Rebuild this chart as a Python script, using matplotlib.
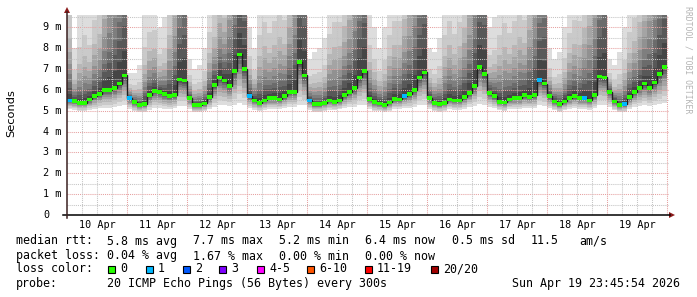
import numpy as np
import matplotlib
matplotlib.use("Agg")
import matplotlib.pyplot as plt
from matplotlib.patches import Rectangle, Polygon
from matplotlib.transforms import blended_transform_factory

W, H = 697, 297
MONO = "DejaVu Sans Mono"

# 2 hour steps, 10 Apr 00:00 .. 19 Apr 24:00
step_hours = 2
day_labels = ["10 Apr", "11 Apr", "12 Apr", "13 Apr", "14 Apr",
              "15 Apr", "16 Apr", "17 Apr", "18 Apr", "19 Apr"]

median_ms = [
    5.50, 5.48, 5.37, 5.37, 5.55, 5.70, 5.80, 6.00, 6.00, 6.10, 6.30, 6.70,
    5.60, 5.42, 5.28, 5.32, 5.75, 5.95, 5.90, 5.80, 5.70, 5.75, 6.50, 6.45,
    5.60, 5.28, 5.28, 5.35, 5.65, 6.24, 6.60, 6.45, 6.20, 6.90, 7.70, 7.00,
    5.70, 5.50, 5.37, 5.50, 5.60, 5.60, 5.55, 5.70, 5.90, 5.90, 7.34, 6.70,
    5.50, 5.32, 5.32, 5.37, 5.50, 5.42, 5.50, 5.75, 5.90, 6.10, 6.60, 6.90,
    5.56, 5.42, 5.35, 5.28, 5.40, 5.56, 5.55, 5.70, 5.80, 6.00, 6.60, 6.84,
    5.60, 5.37, 5.32, 5.37, 5.55, 5.50, 5.50, 5.65, 5.85, 6.20, 7.10, 6.75,
    5.85, 5.70, 5.42, 5.40, 5.55, 5.60, 5.60, 5.75, 5.66, 5.75, 6.48, 6.30,
    5.70, 5.45, 5.32, 5.45, 5.60, 5.70, 5.60, 5.60, 5.50, 5.75, 6.65, 6.60,
    5.90, 5.45, 5.28, 5.32, 5.65, 5.90, 6.10, 6.30, 6.10, 6.35, 6.75, 7.10,
]

# steps with lost pings (out of 20)
loss_steps = [0, 12, 36, 48, 67, 94, 103, 111]
loss_count = [1, 1, 1, 1, 1, 1, 1, 1]

# lowest and highest ping of each step (ms)
smoke_lo = [
    5.08, 5.03, 4.98, 4.98, 5.03, 5.08, 5.13, 5.13, 5.13, 5.18, 5.23, 5.28,
    5.08, 4.98, 4.93, 4.93, 5.03, 5.13, 5.13, 5.08, 5.08, 5.13, 5.23, 5.23,
    5.08, 4.93, 4.93, 4.98, 5.08, 5.18, 5.28, 5.28, 5.23, 5.28, 5.38, 5.28,
    5.13, 5.03, 4.98, 5.03, 5.08, 5.08, 5.08, 5.13, 5.18, 5.18, 5.28, 5.28,
    5.03, 4.93, 4.93, 4.98, 5.03, 5.03, 5.08, 5.13, 5.18, 5.18, 5.28, 5.28,
    5.08, 4.98, 4.98, 4.93, 4.98, 5.08, 5.08, 5.13, 5.13, 5.18, 5.28, 5.28,
    5.08, 4.98, 4.93, 4.98, 5.08, 5.03, 5.03, 5.08, 5.18, 5.23, 5.33, 5.28,
    5.18, 5.13, 5.03, 4.98, 5.08, 5.08, 5.08, 5.13, 5.13, 5.13, 5.28, 5.23,
    5.13, 5.03, 4.93, 5.03, 5.08, 5.13, 5.08, 5.08, 5.03, 5.13, 5.28, 5.28,
    5.18, 5.03, 4.93, 4.93, 5.08, 5.18, 5.23, 5.28, 5.23, 5.28, 5.33, 5.38,
]
smoke_hi = [
    13.0, 8.0, 10.0, 11.0, 10.0, 12.0, 13.0, 17.0, 22.0, 26.0, 32.0, 36.0,
    6.8, 6.8, 7.2, 10.0, 11.0, 11.0, 9.0, 9.5, 13.0, 18.0, 28.0, 34.0,
    7.5, 7.0, 7.2, 8.0, 11.0, 12.0, 15.0, 14.0, 20.0, 26.0, 34.0, 36.0,
    9.0, 8.0, 11.0, 12.0, 11.0, 12.0, 13.0, 12.0, 16.0, 22.0, 34.0, 36.0,
    7.5, 7.8, 8.0, 8.5, 11.0, 12.0, 12.0, 14.0, 17.0, 22.0, 30.0, 36.0,
    10.0, 9.0, 8.0, 9.0, 11.0, 12.0, 12.0, 15.0, 18.0, 24.0, 32.0, 36.0,
    8.0, 7.8, 8.5, 11.0, 12.0, 11.0, 12.0, 14.0, 18.0, 26.0, 34.0, 36.0,
    9.0, 9.5, 11.0, 12.0, 11.0, 12.0, 13.0, 12.0, 16.0, 22.0, 30.0, 34.0,
    8.0, 7.5, 7.8, 9.0, 11.0, 12.0, 12.0, 14.0, 17.0, 22.0, 30.0, 36.0,
    7.5, 7.2, 7.8, 9.0, 11.0, 12.0, 14.0, 16.0, 20.0, 24.0, 30.0, 36.0,
]
# where the sorted pings sit between median and the extremes
upper_shape = [0.0, 0.04, 0.08, 0.115, 0.17, 0.23, 0.31, 0.40, 0.58, 1.0]
lower_shape = [0.0, 0.06, 0.12, 0.20, 0.30, 0.40, 0.52, 0.66, 0.82, 1.0]

loss_labels = ["0", "1", "2", "3", "4-5", "6-10", "11-19", "20/20"]
loss_colors = ["#26ff00", "#00b8ff", "#0059ff", "#7e00ff",
               "#ff00ff", "#ff5500", "#ff0000", "#a10000"]


def loss_color(n):
    if n <= 3:
        return loss_colors[n]
    if n <= 5:
        return loss_colors[4]
    if n <= 10:
        return loss_colors[5]
    if n <= 19:
        return loss_colors[6]
    return loss_colors[7]


def px(x, y):
    return x / W, 1 - y / H


fig = plt.figure(figsize=(W / 100, H / 100), dpi=100)
ax = fig.add_axes([67 / W, (H - 215) / H, (669 - 67) / W, 200 / H])
ax.set_xlim(0, 602 / 2.5)
ax.set_ylim(0, 200 / 20.85)
ax.axis("off")

med = np.array(median_ms)
lo = np.array(smoke_lo)
hi = np.array(smoke_hi)
n = len(med)
edges = np.arange(n + 1) * step_hours

# sorted pings: index 0 lowest .. 19 highest
pings = []
for f in lower_shape[::-1]:
    pings.append(med - f * (med - lo))
for f in upper_shape:
    pings.append(med + f * (hi - med))

# smoke bands, outer ones lightest, inner ones darker
for ibot in range(10):
    g = int(190 / 10 * (10 - (ibot + 1))) + 50
    col = "#%02x%02x%02x" % (g, g, g)
    b = np.append(pings[ibot], pings[ibot][-1])
    t = np.append(pings[19 - ibot], pings[19 - ibot][-1])
    ax.fill_between(edges, b, t, step="post", color=col, lw=0,
                    antialiased=False, zorder=1)

# grid
dots = (0, (1, 1))
for v in np.arange(0.5, 9.6, 0.5):
    major = abs(v - round(v)) < 1e-6
    ax.axhline(v, color="#e6a0a0" if major else "#c4c4c4", lw=0.75,
               ls=dots, zorder=2)
for h in range(6, 241, 6):
    major = h % 24 == 0
    ax.axvline(h, color="#e6a0a0" if major else "#c4c4c4", lw=0.75,
               ls=dots, zorder=2)

# median with loss colour
ax.stairs(med, edges, baseline=None, color="#202020", lw=1.0, zorder=3)
loss = np.zeros(n, dtype=int)
loss[loss_steps] = loss_count
ax.bar(edges[:-1], 0.17, bottom=med - 0.085, width=step_hours, align="edge",
       color=[loss_color(k) for k in loss], lw=0, zorder=4)

# axes with arrows
fig.add_artist(plt.Line2D([63 / W, 670 / W], [1 - 215 / H] * 2,
                          color="#000000", lw=1.1))
fig.add_artist(plt.Line2D([67 / W] * 2, [1 - 218 / H, 1 - 12 / H],
                          color="#3a2020", lw=1.1))
fig.add_artist(Polygon([px(64, 13), px(70, 13), px(67, 7)],
                       closed=True, color="#8b1a1a", lw=0))
fig.add_artist(Polygon([px(669, 212), px(669, 218), px(675, 215)],
                       closed=True, color="#8b1a1a", lw=0))

# tick labels
ty = blended_transform_factory(fig.transFigure, ax.transData)
for v in range(10):
    ax.text(43 / W, v, "0" if v == 0 else "%d m" % v, transform=ty,
            ha="left", va="center", family=MONO, fontsize=7.3, color="#000000")
tx = blended_transform_factory(ax.transData, fig.transFigure)
for i, lab in enumerate(day_labels):
    ax.text(i * 24 + 12, 1 - 225 / H, lab, transform=tx, ha="center",
            va="center", family=MONO, fontsize=7.3)

fig.text(*px(11, 113), "Seconds", rotation=90, ha="center", va="center",
         family="DejaVu Sans", fontsize=8.2)
fig.text(*px(688, 60), "RRDTOOL / TOBI OETIKER", rotation=270, ha="center",
         va="center", family=MONO, fontsize=5.9, color="#b4b4b4")

# legend
legend_rows = [
    (241, [(16, "median rtt:"), (107, "5.8 ms avg"), (193, "7.7 ms max"),
           (279, "5.2 ms min"), (365, "6.4 ms now"), (452, "0.5 ms sd"),
           (531, "11.5"), (579, "am/s")]),
    (256, [(16, "packet loss:"), (107, "0.04 % avg"), (193, "1.67 % max"),
           (279, "0.00 % min"), (365, "0.00 % now")]),
    (269, [(16, "loss color:")]),
    (284, [(16, "probe:"), (107, "20 ICMP Echo Pings (56 Bytes) every 300s")]),
]
for y, items in legend_rows:
    for x, s in items:
        fig.text(*px(x, y), s, ha="left", va="center", family=MONO,
                 fontsize=8.35)
fig.text(*px(680, 284), "Sun Apr 19 23:45:54 2026", ha="right", va="center",
         family=MONO, fontsize=8.35)

box_x = [108, 146, 183, 219, 257, 307, 365, 431]
for bx, lab, col in zip(box_x, loss_labels, loss_colors):
    fig.add_artist(Rectangle(px(bx, 273), 7 / W, 7 / H, facecolor=col,
                             edgecolor="#000000", lw=0.8))
    fig.text(*px(bx + 12, 269), lab, ha="left", va="center", family=MONO,
             fontsize=8.35)

fig.savefig("out.png", dpi=100)
